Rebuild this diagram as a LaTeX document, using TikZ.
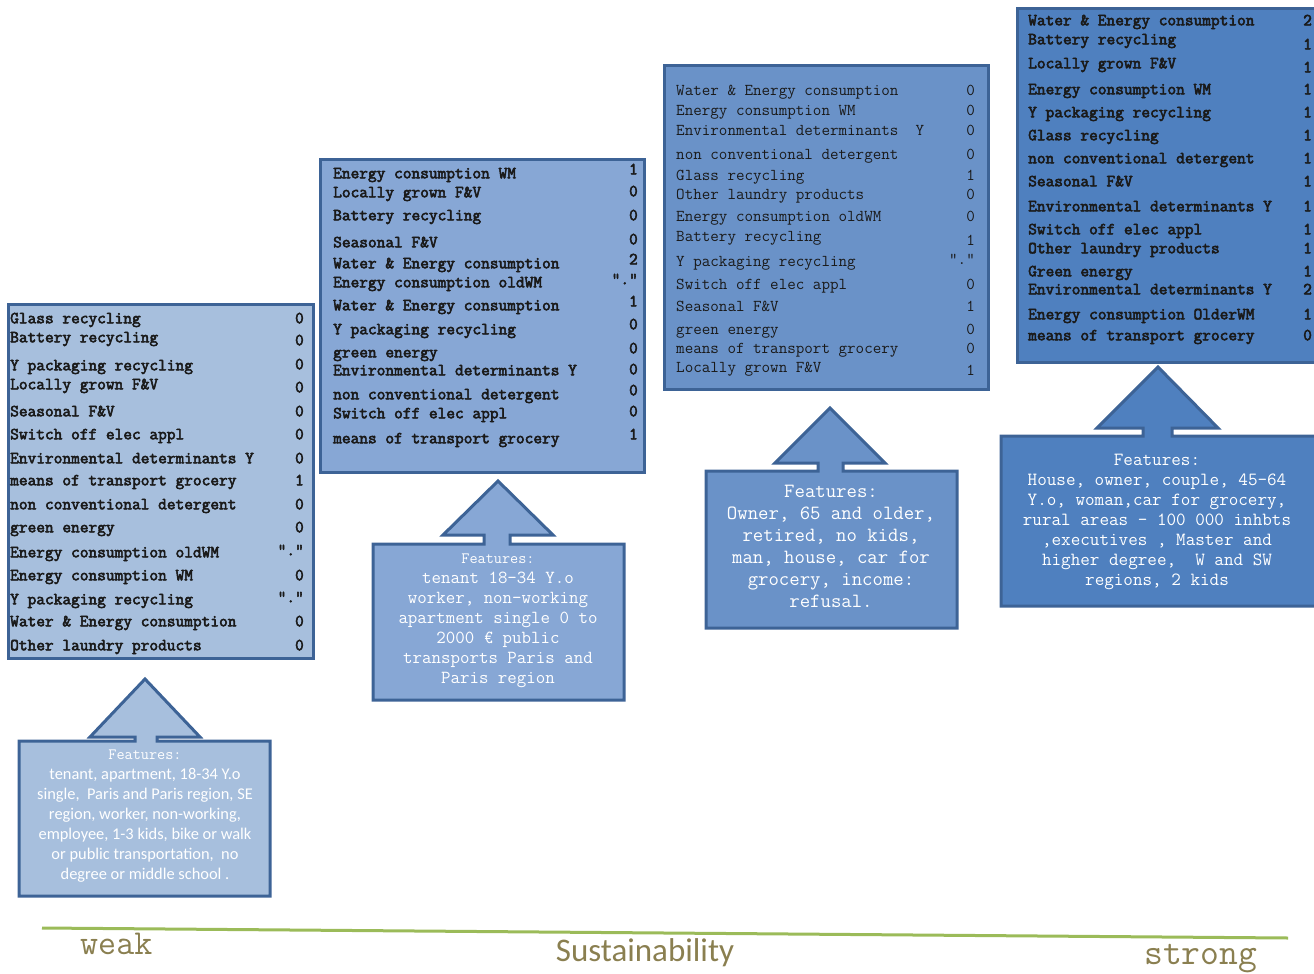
\documentclass[tikz,border=0pt]{standalone}
\usepackage{fontspec}
\setmainfont{Liberation Serif}
\newfontfamily\cmono[AutoFakeBold=3.2]{Latin Modern Mono}
\newfontfamily\calib{Carlito}
\definecolor{bordc}{HTML}{3D6396}
\definecolor{fillA}{HTML}{A7BFDD}
\definecolor{fillB}{HTML}{87A7D5}
\definecolor{fillC}{HTML}{6A92C8}
\definecolor{fillD}{HTML}{4F80BF}
\definecolor{axisgreen}{HTML}{9BBB59}
\definecolor{olive}{HTML}{8A7F50}
\definecolor{txt}{HTML}{1A1A1A}
\tikzset{
  listbox/.style={draw=bordc, line width=3pt},
  callout/.style={draw=bordc, line width=3pt, line join=miter},
  rowb/.style={anchor=mid west, inner sep=0pt, text=txt, font=\cmono\bfseries\fontsize{16.9}{18}\selectfont},
  valb/.style={anchor=mid east, inner sep=0pt, text=txt, font=\cmono\bfseries\fontsize{16.9}{18}\selectfont},
  rowr/.style={anchor=mid west, inner sep=0pt, text=txt, font=\cmono\fontsize{16.6}{18}\selectfont},
  valr/.style={anchor=mid east, inner sep=0pt, text=txt, font=\cmono\fontsize{16.6}{18}\selectfont},
  feat/.style={align=center, inner sep=0pt, text=white, font=\cmono\fontsize{18.4}{20}\selectfont},
  axislabel/.style={inner sep=0pt, text=olive}
}
\begin{document}
\begin{tikzpicture}[x=1pt, y=-1pt]
\useasboundingbox (0,0) rectangle (1314,974);
\clip (0,0) rectangle (1314,974);

% ---------- list boxes ----------
\draw[listbox, fill=fillA] (8,304) rectangle (313,658);
\draw[listbox, fill=fillB] (320,159) rectangle (644,472);
\draw[listbox, fill=fillC] (664,66) rectangle (988,389);
\draw[listbox, fill=fillD] (1017,9) rectangle (1324,362);

% box 1
\foreach \y/\t/\w/\v [count=\i] in {
  321/Glass recycling/321/0,
  340/Battery recycling/343/0,
  368/Y packaging recycling/367/0,
  387/Locally grown F\&V/390/0,
  414/Seasonal F\&V/414/0,
  437/Switch off elec appl/437/0,
  461/Environmental determinants Y/461/0,
  483/means of transport grocery/483/1,
  507/non conventional detergent/507/0,
  530/green energy/530/0,
  555/Energy consumption oldWM/553/".",
  578/Energy consumption WM/578/0,
  602/Y packaging recycling/600/".",
  624/Water \& Energy consumption/624/0,
  648/Other laundry products/648/0}{
  \node[rowb] (a\i) at (10,\y) {\t};
  \node[valb] (av\i) at (304,\w) {\v};
}

% box 2
\foreach \y/\t/\w/\v [count=\i] in {
  176/Energy consumption WM/172/1,
  195/Locally grown F\&V/194/0,
  218/Battery recycling/218/0,
  245/Seasonal F\&V/242/0,
  266/Water \& Energy consumption/262/2,
  285/Energy consumption oldWM/282/".",
  308/Water \& Energy consumption/304/1,
  332/Y packaging recycling/327/0,
  355/green energy/351/0,
  373/Environmental determinants Y/372/0,
  397/non conventional detergent/393/0,
  416/Switch off elec appl/414/0,
  441/means of transport grocery/437/1}{
  \node[rowb] (b\i) at (333,\y) {\t};
  \node[valb] (bv\i) at (638,\w) {\v};
}

% box 3
\foreach \y/\t/\w/\v [count=\i] in {
  93/Water \& Energy consumption/93/0,
  113/Energy consumption WM/113/0,
  133/Environmental determinants~~Y/133/0,
  157/non conventional detergent/157/0,
  178/Glass recycling/178/1,
  197/Other laundry products/197/0,
  219/Energy consumption oldWM/219/0,
  239/Battery recycling/243/1,
  264/Y packaging recycling/262/".",
  287/Switch off elec appl/287/0,
  309/Seasonal F\&V/309/1,
  332/green energy/332/0,
  351/means of transport grocery/351/0,
  370/Locally grown F\&V/373/1}{
  \node[rowr] (c\i) at (676,\y) {\t};
  \node[valr] (cv\i) at (975,\w) {\v};
}

% box 4
\foreach \y/\t/\w/\v [count=\i] in {
  23/Water \& Energy consumption/23/2,
  42/Battery recycling/47/1,
  66/Locally grown F\&V/70/1,
  92/Energy consumption WM/92/1,
  115/Y packaging recycling/115/1,
  138/Glass recycling/138/1,
  161/non conventional detergent/161/1,
  184/Seasonal F\&V/184/1,
  209/Environmental determinants Y/209/1,
  232/Switch off elec appl/232/1,
  251/Other laundry products/251/1,
  274/Green energy/274/1,
  292/Environmental determinants Y/292/2,
  317/Energy consumption OlderWM/317/1,
  338/means of transport grocery/338/0}{
  \node[rowb] (d\i) at (1028,\y) {\t};
  \node[rowb] (dv\i) at (1303,\w) {\v};
}

% ---------- feature callouts ----------
\draw[callout, fill=fillA] (19,741) -- (135,741) -- (135,737) -- (90,737) -- (145,679)
  -- (200,737) -- (157,737) -- (157,741) -- (270,741) -- (270,896) -- (19,896) -- cycle;
\draw[callout, fill=fillB] (373,544) -- (484,544) -- (484,535) -- (443,535) -- (498,481)
  -- (553,535) -- (510,535) -- (510,544) -- (624,544) -- (624,700) -- (373,700) -- cycle;
\draw[callout, fill=fillC] (706,471) -- (818,471) -- (818,463) -- (775,463) -- (830,408)
  -- (885,463) -- (843,463) -- (843,471) -- (957,471) -- (957,628) -- (706,628) -- cycle;
\draw[callout, fill=fillD] (1001,436) -- (1143,436) -- (1143,428) -- (1097,428) -- (1158,367)
  -- (1218,428) -- (1172,428) -- (1172,436) -- (1324,436) -- (1324,606) -- (1001,606) -- cycle;

\node[feat, font=\calib\fontsize{16.4}{20}\selectfont, anchor=north] (f1) at (145,750)
  {{\cmono\fontsize{15.8}{20}\selectfont Features:}\\
   tenant, apartment, 18-34 Y.o\\
   single,\ \ Paris and Paris region, SE\\
   region, worker, non-working,\\
   employee, 1-3 kids, bike or walk\\
   or public transportation,\ \ no\\
   degree or middle school .};
\node[feat, anchor=north] (f2) at (498,554)
  {{\fontsize{15.8}{20}\selectfont Features:}\\
   tenant 18-34 Y.o\\
   worker, non-working\\
   apartment single 0 to\\
   2000 € public\\
   transports Paris and\\
   Paris region};
\node[feat, font=\cmono\fontsize{20.2}{22}\selectfont, anchor=north] (f3) at (831,485)
  {Features:\\
   Owner, 65 and older,\\
   retired, no kids,\\
   man, house, car for\\
   grocery, income:\\
   refusal.};
\node[feat, font=\cmono\fontsize{18.6}{20}\selectfont, anchor=north] (f4) at (1157,454)
  {Features:\\
   House, owner, couple, 45-64\\
   Y.o, woman,car for grocery,\\
   rural areas - 100 000 inhbts\\
   ,executives , Master and\\
   higher degree,\ \ W and SW\\
   regions, 2 kids};

% ---------- sustainability axis ----------
\coordinate (axL) at (42,928);
\coordinate (axR) at (1288,938);
\draw[axisgreen, line width=3pt] (axL) -- (axR);
\node[axislabel, anchor=mid west, font=\cmono\fontsize{35}{38}\selectfont] (weak) at (80,952) {weak};
\node[axislabel, font=\calib\fontsize{33}{36}\selectfont] (sust) at (645,953) {Sustainability};
\node[axislabel, anchor=mid west, font=\cmono\fontsize{36.5}{40}\selectfont] (strong) at (1144,962) {strong};
\end{tikzpicture}
\end{document}
